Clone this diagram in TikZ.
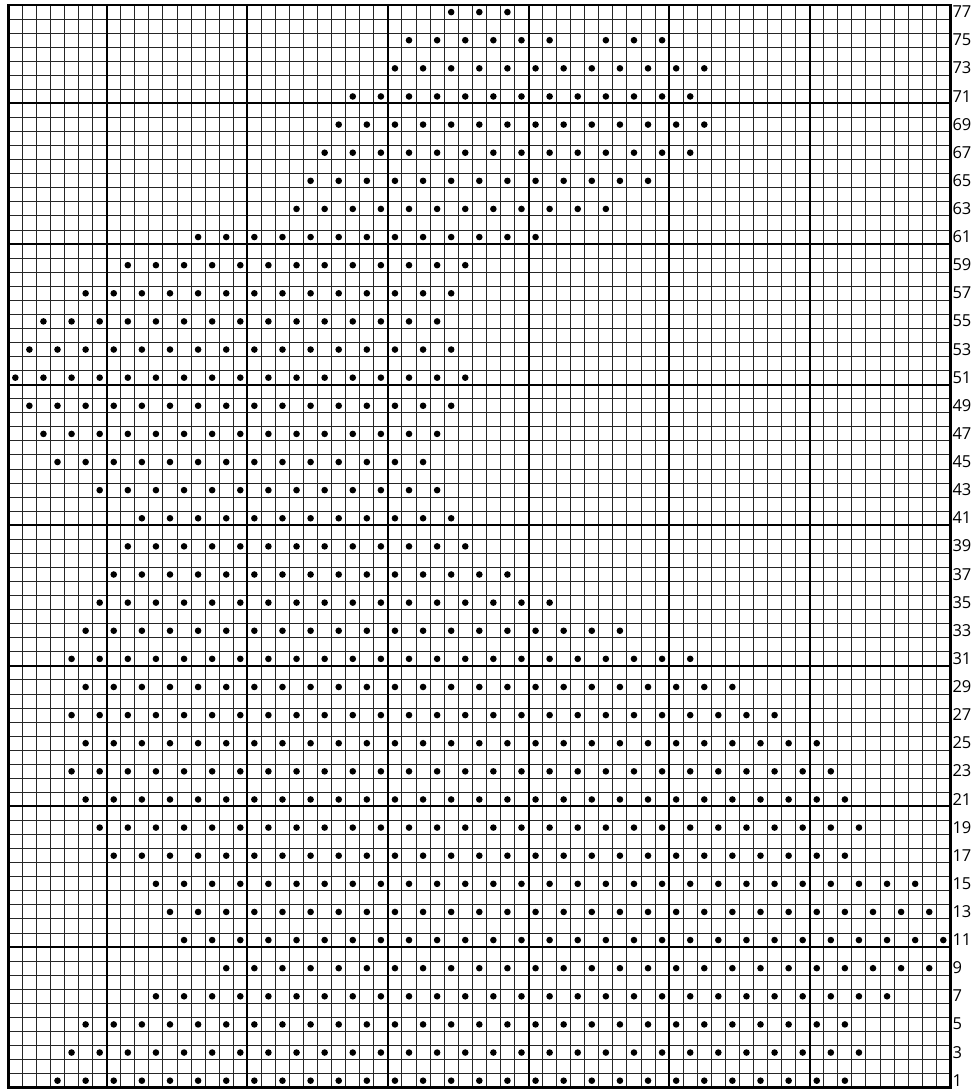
\documentclass[tikz,border=0pt]{standalone}
\usepackage{fontspec}
\setmainfont[Numbers=Lining]{Open Sans}
\begin{document}
\begin{tikzpicture}[x=1pt,y=1pt]
\useasboundingbox (0,0) rectangle (977,1090);
\def\X{8.3}\def\Y{2.3}\def\S{14.06}
\tikzset{
  thingrid/.style={line width=1pt, black!85},
  majorgrid/.style={line width=2pt, black},
  chartframe/.style={line width=2.8pt, black},
  bead/.style={fill=black},
  rowlabel/.style={anchor=west, inner sep=0pt, font=\fontsize{16.5}{17}\selectfont}
}
% thin grid
\foreach \i in {0,...,67} \draw[thingrid] ({\X+\i*\S},\Y) -- ++(0,{77*\S});
\foreach \j in {0,...,77} \draw[thingrid] (\X,{\Y+\j*\S}) -- ++({67*\S},0);
% major grid
\foreach \i in {7,17,...,57} \draw[majorgrid] ({\X+\i*\S},\Y) -- ++(0,{77*\S});
\foreach \j in {10,20,...,70} \draw[majorgrid] (\X,{\Y+\j*\S}) -- ++({67*\S},0);
% frame
\draw[chartframe] (\X,\Y) rectangle ++({67*\S},{77*\S});
% beads
\foreach \r/\a/\b in {77/32/36, 75/29/39, 75/43/47, 73/28/50, 71/25/49, 69/24/50,
  67/23/49, 65/22/46, 63/21/43, 61/14/38, 59/9/33, 57/6/32, 55/3/31, 53/2/32,
  51/1/33, 49/2/32, 47/3/31, 45/4/30, 43/7/31, 41/10/32, 39/9/33, 37/8/36,
  35/7/39, 33/6/44, 31/5/49, 29/6/52, 27/5/55, 25/6/58, 23/5/59, 21/6/60,
  19/7/61, 17/8/60, 15/11/65, 13/12/66, 11/13/67, 9/16/66, 7/11/63, 5/6/60,
  3/5/61, 1/4/60}{
  \pgfmathtruncatemacro\n{(\b-\a)/2}
  \foreach \k in {0,...,\n}{
    \fill[bead] ({\X+(\a+2*\k-0.5)*\S},{\Y+(\r-0.5)*\S}) circle (3.3pt);
  }
}
% row labels
\foreach \r in {1,3,...,77}
  \node[rowlabel] (lab\r) at ({\X+67*\S+2.0},{\Y+(\r-0.5)*\S+0.3}) {\r};
\end{tikzpicture}
\end{document}
